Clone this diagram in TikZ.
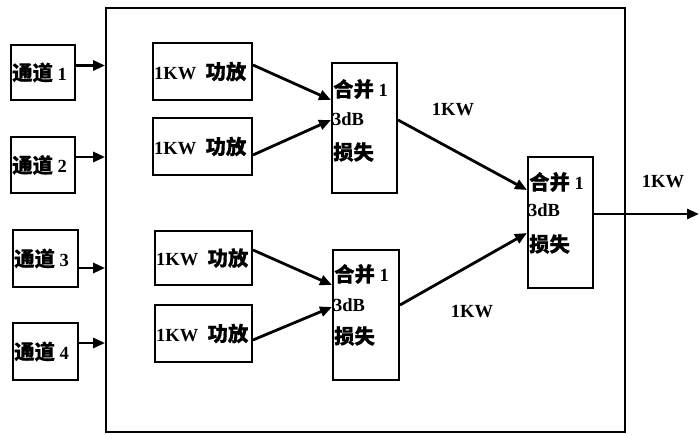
\documentclass[tikz,border=0pt]{standalone}
\usepackage{fontspec}
\setmainfont{Liberation Serif}
\newfontfamily\cjk{Noto Sans CJK SC}[FakeBold=0.6,Scale=1.1]
\usetikzlibrary{arrows.meta,calc}
\begin{document}
\begin{tikzpicture}[x=1pt,y=1pt,
  box/.style={draw=black,line width=2pt,rectangle,inner sep=0pt},
  txt/.style={inner sep=0pt,font=\fontsize{18.5}{20}\selectfont\bfseries},
  arr/.style={line width=2.8pt,-{Triangle[length=12pt,width=10pt]}}]
\useasboundingbox (0,0) rectangle (699,-435);
% outer box
\node[box,line width=1.8pt,minimum width=519pt,minimum height=424pt] (outer) at (365.5,-220) {};
% channels
\node[box,minimum width=64pt,minimum height=55pt] (ch1) at (43,-72.5) {};
\node[box,minimum width=64pt,minimum height=56pt] (ch2) at (43,-165) {};
\node[box,minimum width=65pt,minimum height=57pt] (ch3) at (45.5,-258.5) {};
\node[box,minimum width=65pt,minimum height=57pt] (ch4) at (45.5,-351.5) {};
\foreach \c/\n in {ch1/1,ch2/2,ch3/3,ch4/4}
  \node[txt,anchor=west] (\c t) at ([xshift=2pt]\c.west) {{\cjk 通道} \n};
% amplifiers
\node[box,minimum width=99pt,minimum height=57pt] (a1) at (202.5,-71.5) {};
\node[box,minimum width=99pt,minimum height=57pt] (a2) at (202.5,-146.5) {};
\node[box,minimum width=97pt,minimum height=54pt] (a3) at (203.5,-258) {};
\node[box,minimum width=97pt,minimum height=57pt] (a4) at (203.5,-333.5) {};
\foreach \a in {a1,a2,a3,a4}
  \node[txt,anchor=west] (\a t) at ([xshift=2pt]\a.west) {1KW\ \ {\cjk 功放}};
% combiners
\node[box,minimum width=65pt,minimum height=130pt] (m1) at (364.5,-128) {};
\node[box,minimum width=66pt,minimum height=130pt] (m2) at (366,-315) {};
\node[box,minimum width=65pt,minimum height=131pt] (m3) at (560.5,-222.5) {};
\foreach \m/\a/\b/\c in {m1/27/57/90, m2/25/56/87, m3/26/54/88}{
  \node[txt,anchor=west] (\m t1) at ([xshift=2pt,yshift=-\a pt]\m.north west) {{\cjk 合并} 1};
  \node[txt,anchor=west] (\m t2) at ([xshift=1pt,yshift=-\b pt]\m.north west) {3dB};
  \node[txt,anchor=west] (\m t3) at ([xshift=2pt,yshift=-\c pt]\m.north west) {\cjk 损失};
}
% labels
\node[txt] (l1) at (453,-110) {1KW};
\node[txt] (l2) at (472,-312) {1KW};
\node[txt] (l3) at (663,-182) {1KW};
% channel arrows
\draw[arr] ([yshift=7pt]ch1.east) -- ([yshift=7pt]ch1.east -| outer.west);
\draw[arr] ([yshift=8pt]ch2.east) -- ([yshift=8pt]ch2.east -| outer.west);
\draw[arr] ([yshift=-9.5pt]ch3.east) -- ([yshift=-9.5pt]ch3.east -| outer.west);
\draw[arr] ([yshift=8.5pt]ch4.east) -- ([yshift=8.5pt]ch4.east -| outer.west);
% amp to combiner
\draw[arr] ([yshift=6.5pt]a1.east) -- ([yshift=28pt]m1.west);
\draw[arr] ([yshift=-8.5pt]a2.east) -- ([yshift=8pt]m1.west);
\draw[arr] ([yshift=8pt]a3.east) -- ([yshift=30pt]m2.west);
\draw[arr] ([yshift=-6.5pt]a4.east) -- ([yshift=8pt]m2.west);
% combiner to combiner
\draw[arr] ([yshift=8pt]m1.east) -- ([yshift=32.5pt]m3.west);
\draw[arr] ([yshift=10pt]m2.east) -- ([yshift=-10.5pt]m3.west);
% output
\coordinate (out) at (699,-214);
\draw[arr] ([yshift=8.5pt]m3.east) -- (out);
\end{tikzpicture}
\end{document}
